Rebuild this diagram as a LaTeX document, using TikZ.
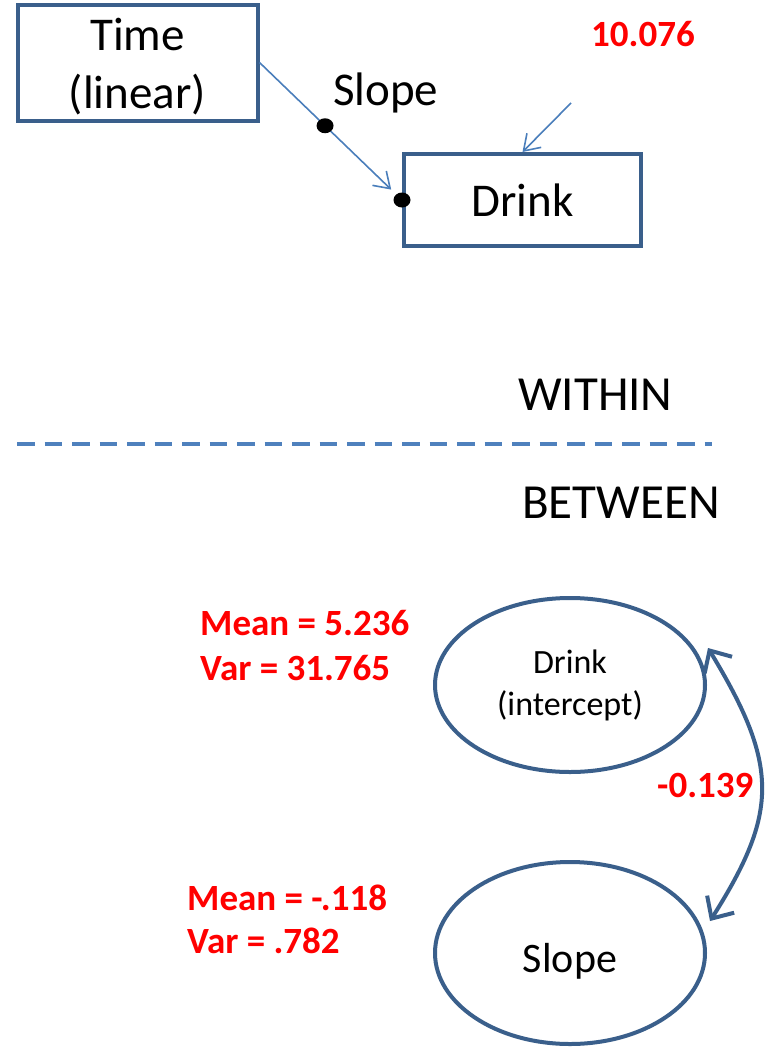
\documentclass[tikz,border=0pt]{standalone}
\usepackage{fontspec}
\setmainfont{Carlito}
\usetikzlibrary{arrows.meta,shapes.geometric,calc}
\definecolor{boxblue}{HTML}{3A5F8B}
\definecolor{linkblue}{HTML}{4A7EBB}
\definecolor{dashblue}{HTML}{4F81BD}
\definecolor{statred}{HTML}{FF0000}
\begin{document}
\begin{tikzpicture}[x=1pt,y=-1pt,
  varbox/.style={draw=boxblue, line width=4pt, rectangle, inner sep=0pt,
    font=\fontsize{47}{58}\selectfont, align=center},
  latent/.style={draw=boxblue, line width=4pt, ellipse, inner sep=0pt,
    minimum width=270pt, align=center},
  path arrow/.style={draw=linkblue, line width=1.6pt,
    -{Straight Barb[length=15pt,width=20pt]}},
  dot/.style={ellipse, fill=black, inner sep=0pt, minimum width=17pt, minimum height=15pt},
  heading/.style={font=\fontsize{49}{58}\selectfont, anchor=base west, inner sep=0pt},
  stat/.style={text=statred, font=\bfseries\fontsize{37}{44}\selectfont,
    anchor=base west, inner sep=0pt},
  covarrow/.style={draw=boxblue, line width=4pt,
    {Straight Barb[length=17pt,width=32pt]}-{Straight Barb[length=17pt,width=32pt]}}
]
\useasboundingbox (0,0) rectangle (775,1052);

% ---- within level: observed variables ----
\node[varbox, minimum width=240pt, minimum height=106pt] (time) at (137.5,62.5)
  {\raisebox{-5pt}[\height][\depth]{\begin{tabular}{@{}c@{}}Time\\(linear)\end{tabular}}};
\node[varbox, minimum width=237pt, minimum height=92pt] (drink) at (522.5,200) {Drink};

% random slope path
\draw[path arrow, shorten >=15pt] (time.east) -- (drink.west);
\node[dot] (d1) at ($(time.east)!0.46!(drink.west)$) {};
\node[dot] (d2) at (drink.west) {};
\node[heading, font=\fontsize{47}{56}\selectfont] (slopelbl) at (333,105) {Slope};

% residual variance
\coordinate (res) at (571,103);
\draw[path arrow] (res) -- (drink.north);
\node[stat] (rvar) at (591,46) {10.076};

% ---- level separator ----
\node[heading] (within) at (518,410) {WITHIN};
\coordinate (dl) at (17,444);
\coordinate (dr) at (712,444);
\draw[dashblue, line width=3.6pt, dash pattern=on 17.5pt off 10pt] (dl) -- (dr);
\node[heading] (between) at (522,518) {BETWEEN};

% ---- between level: random effects ----
\node[latent, minimum height=174pt, font=\fontsize{34}{42}\selectfont] (icpt) at (570,685) {Drink\\(intercept)};
\node[latent, minimum height=182pt, font=\fontsize{42}{50}\selectfont] (slp) at (570,953)
  {\raisebox{-8pt}[\height][\depth]{Slope}};

\node[stat] (m1) at (200,635) {Mean = 5.236};
\node[stat] (v1) at (200,680) {Var = 31.765};
\node[stat] (m2) at (187,910) {Mean = -.118};
\node[stat] (v2) at (187,953) {Var = .782};

% covariance of intercept and slope
\draw[covarrow] ($(icpt.east)+(1,-37)$) .. controls (779,765) and (779,812) .. ($(slp.east)+(3,-32)$);
\node[stat] (cov) at (657,797) {-0.139};
\end{tikzpicture}
\end{document}
